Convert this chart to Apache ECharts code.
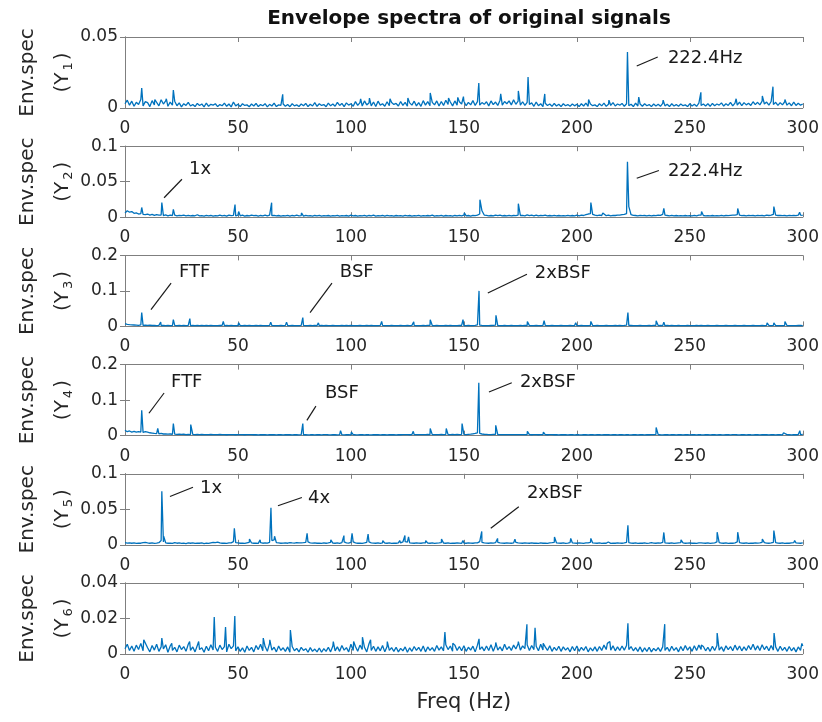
<!DOCTYPE html>
<html>
<head>
<meta charset="utf-8">
<title>Envelope spectra of original signals</title>
<script src="https://cdn.jsdelivr.net/npm/echarts@6/dist/echarts.min.js"></script>
<style>
  html, body { margin: 0; padding: 0; background: #fff; }
  #chart { width: 822px; height: 722px; }
</style>
</head>
<body>
<div id="chart"></div>
<script>
// Frequency axis ticks (Hz)
const freqTicks = [0, 50, 100, 150, 200, 250, 300];

// Noise floor of each envelope spectrum, one value per Hz from 0 to 300 Hz,
// in units of 1e-4.
const FLOOR_UNIT = 1e-4;

const floorY1 = [
  30,55,20,48,12,40,25,60,15,45,
  38,10,52,22,46,15,58,28,50,12,
  42,20,48,16,36,8,30,18,40,14,
  25,10,32,18,28,8,35,12,26,20,
  30,10,24,16,34,12,28,8,42,15,
  26,10,30,18,22,9,28,14,32,10,
  24,16,30,8,26,14,35,10,22,18,
  28,12,24,9,30,15,22,11,28,16,
  32,10,26,14,38,12,30,18,24,9,
  34,15,28,12,40,18,32,10,36,20,
  30,12,45,18,38,14,50,22,35,15,
  42,10,48,20,30,12,44,16,38,25,
  32,14,46,18,40,12,36,20,48,15,
  38,12,52,20,45,16,40,22,50,14,
  46,18,55,25,42,15,50,20,44,28,
  48,16,40,22,52,18,45,20,38,26,
  44,15,50,24,42,18,55,20,46,30,
  50,22,58,26,48,20,44,18,40,24,
  36,12,42,16,30,10,34,18,28,12,
  32,14,26,10,30,16,24,12,28,15,
  26,10,30,14,35,12,28,16,22,10,
  30,15,34,12,26,18,38,14,28,20,
  32,12,30,16,26,10,34,14,28,12,
  30,16,24,10,28,14,26,12,32,15,
  26,10,30,14,24,12,28,16,22,10,
  30,14,26,12,34,18,28,14,30,12,
  32,16,28,20,36,14,30,18,40,15,
  34,20,42,16,38,22,34,18,44,24,
  40,22,48,28,42,20,46,24,40,18,
  38,22,44,20,36,16,42,18,34,20,
  28
];

const floorY2 = [
  60,90,70,80,55,60,45,50,40,35,
  45,30,40,25,35,28,30,22,32,20,
  30,24,28,18,26,22,30,20,25,18,
  24,20,35,18,22,16,26,20,24,15,
  22,18,28,20,25,16,30,22,26,18,
  30,20,28,16,24,18,30,22,26,15,
  24,20,28,18,30,22,26,18,24,16,
  22,18,26,15,24,20,28,18,22,16,
  25,18,22,15,24,20,26,16,22,18,
  24,16,22,18,26,15,22,20,24,16,
  30,18,24,16,22,18,26,15,24,20,
  28,16,22,18,24,15,26,18,22,16,
  24,18,22,15,26,20,24,16,22,18,
  25,16,22,20,24,18,30,16,22,18,
  26,16,24,20,22,15,24,18,26,20,
  30,18,24,16,26,22,30,45,90,30,
  26,20,24,18,30,22,28,18,24,20,
  26,18,24,22,30,24,26,20,32,22,
  28,20,30,18,26,22,28,20,24,18,
  26,20,24,18,22,20,26,18,24,20,
  28,20,30,24,35,45,50,40,28,22,
  30,24,35,22,28,20,26,24,30,28,
  35,40,50,150,35,26,24,20,26,22,
  24,20,26,18,24,22,30,26,40,28,
  24,20,26,18,24,20,22,18,24,20,
  22,18,26,20,30,28,24,18,22,20,
  24,18,22,20,26,18,24,22,26,28,
  30,35,28,22,24,20,26,22,24,20,
  26,22,24,20,28,24,30,40,30,24,
  26,22,24,20,26,22,24,22,28,30,
  26
];

const floorY3 = [
  80,60,50,45,40,35,30,40,30,35,
  28,32,25,30,22,28,26,30,24,28,
  22,26,30,24,28,20,26,22,30,24,
  26,20,28,22,30,24,26,20,28,22,
  24,20,26,30,22,26,20,28,24,22,
  26,20,24,28,22,26,20,24,28,22,
  26,20,24,22,28,26,20,24,22,26,
  20,28,24,22,26,20,24,22,28,30,
  24,20,26,22,28,24,20,26,22,28,
  24,20,26,22,24,20,26,22,28,24,
  26,20,24,22,26,20,24,28,22,26,
  20,24,22,28,26,20,24,22,26,20,
  24,22,28,24,20,26,22,28,26,20,
  24,22,26,20,28,30,24,22,26,20,
  24,22,28,20,26,22,24,20,28,26,
  24,22,26,20,24,28,40,35,26,22,
  24,20,26,28,35,24,22,20,26,22,
  24,26,20,24,22,26,20,28,26,22,
  24,20,26,22,24,28,30,22,20,26,
  22,24,20,26,22,24,20,28,22,26,
  24,20,26,22,24,20,28,24,22,26,
  20,24,22,26,20,24,22,26,20,28,
  24,28,35,30,26,22,24,20,26,22,
  24,20,26,22,28,30,24,26,22,20,
  26,22,28,24,20,26,22,24,20,26,
  22,24,20,28,24,26,22,20,26,22,
  24,20,26,22,24,20,26,24,22,20,
  26,22,24,20,26,22,24,20,28,22,
  24,20,26,22,28,26,24,28,22,20,
  24,22,30,26,22,20,24,22,26,28,
  24
];

const floorY4 = [
  150,110,130,100,120,95,115,100,90,110,
  95,80,70,60,55,50,60,45,50,40,
  45,38,42,35,40,32,38,30,36,28,
  34,30,36,28,32,26,30,28,34,26,
  30,28,32,26,30,24,28,30,26,24,
  28,26,30,24,28,26,30,24,28,22,
  26,24,28,22,26,24,28,22,26,24,
  22,26,24,28,22,26,24,22,28,24,
  26,22,24,28,22,26,24,22,26,28,
  24,22,26,24,22,28,26,22,24,26,
  22,28,24,22,26,24,22,28,24,22,
  26,24,28,22,26,24,22,26,24,28,
  22,26,24,28,30,26,24,28,26,30,
  28,26,30,28,34,30,28,26,30,28,
  32,30,34,28,30,32,28,34,30,36,
  34,30,36,40,50,60,80,60,45,38,
  34,30,28,32,36,30,28,26,30,28,
  26,30,28,26,28,30,26,28,30,26,
  24,28,26,24,28,30,26,24,28,26,
  24,26,22,28,24,26,22,24,26,22,
  28,24,22,26,24,22,26,24,22,26,
  24,22,26,24,28,22,26,24,22,26,
  24,22,28,24,22,26,24,22,26,24,
  22,26,24,28,30,34,28,24,22,26,
  24,22,26,24,22,26,24,22,26,24,
  22,26,24,22,28,24,22,26,24,22,
  26,24,22,28,24,22,26,24,22,26,
  30,24,22,26,24,22,28,24,22,26,
  24,22,26,24,28,22,26,24,22,26,
  24,22,28,26,24,22,26,24,28,30,
  34
];

const floorY5 = [
  30,25,28,22,26,20,24,22,30,35,
  28,22,26,20,24,30,60,40,28,22,
  24,20,30,22,26,20,24,18,26,22,
  28,20,24,22,26,18,24,20,28,35,
  30,38,26,22,24,20,26,28,45,30,
  26,22,24,20,28,35,26,22,24,20,
  30,22,26,24,35,60,70,30,26,22,
  24,28,22,30,26,24,32,28,26,30,
  35,40,28,24,26,22,24,20,26,22,
  28,35,24,22,26,20,30,40,26,24,
  35,40,26,22,24,20,26,35,40,28,
  24,22,26,20,28,24,22,26,20,24,
  22,28,26,40,45,38,28,24,22,26,
  24,22,26,28,24,22,26,20,24,26,
  30,24,22,26,20,24,22,26,24,20,
  24,22,26,24,22,26,28,45,35,26,
  24,22,26,24,30,35,28,24,22,26,
  24,22,26,35,28,24,22,26,24,22,
  26,22,24,20,26,22,24,20,26,30,
  35,26,24,22,26,20,24,30,28,24,
  22,26,24,20,26,28,35,26,24,22,
  26,20,24,22,26,20,24,22,26,24,
  22,26,35,30,24,22,26,20,24,22,
  26,20,24,30,24,22,26,24,35,28,
  24,22,26,20,24,28,30,26,22,24,
  26,22,24,20,26,28,24,22,26,20,
  24,28,40,30,24,22,26,20,24,22,
  28,40,30,24,22,26,20,24,22,26,
  24,28,35,30,24,22,26,35,30,24,
  22,26,20,24,22,26,30,28,24,22,
  26
];

const floorY6 = [
  30,55,20,45,15,50,25,60,18,70,
  35,12,48,22,55,15,40,28,52,10,
  45,20,38,12,50,25,42,15,55,20,
  40,12,48,25,35,10,44,18,52,22,
  38,15,50,25,42,12,55,30,46,18,
  40,15,35,10,45,20,38,12,48,25,
  55,18,42,15,60,22,38,12,45,20,
  35,15,40,10,42,18,32,12,38,20,
  30,10,36,15,28,12,34,10,30,15,
  38,12,45,18,40,15,48,22,36,12,
  55,20,42,15,50,25,38,12,58,20,
  44,15,40,18,48,12,42,20,36,15,
  38,12,32,18,40,10,35,15,42,20,
  38,15,45,12,40,20,36,15,48,22,
  40,18,52,25,45,15,50,20,42,18,
  46,15,38,22,44,12,50,25,40,18,
  45,20,52,15,48,22,40,18,55,25,
  42,20,50,28,58,22,46,30,52,20,
  48,25,44,18,55,22,40,20,46,15,
  38,20,44,15,40,22,35,12,42,18,
  45,15,38,20,42,12,35,18,40,15,
  42,20,50,25,55,22,46,18,40,20,
  45,22,48,25,42,18,36,15,40,12,
  35,15,38,12,32,18,36,15,40,20,
  38,15,44,20,36,12,42,18,48,22,
  40,15,46,20,50,25,42,18,38,15,
  44,20,48,22,40,15,46,25,42,18,
  50,22,45,18,40,20,48,25,55,22,
  46,20,52,25,44,18,48,22,40,15,
  44,20,38,15,42,18,36,12,40,20,
  45
];

// Spectral lines standing above the floor: [frequency (Hz), amplitude]
const peaksY1 = [
  [7.4,0.0140],[13.2,0.0060],[18.3,0.0065],[21.4,0.0127],[69.8,0.0096],
  [104.3,0.0065],[108.2,0.0070],[117.3,0.0065],[125.2,0.0070],[135.1,0.0106],
  [143.2,0.0070],[147.3,0.0075],[149.8,0.0080],[156.6,0.0176],[166.3,0.0099],
  [172.6,0.0068],[174.1,0.0120],[178.4,0.0218],[185.8,0.0099],[205.2,0.0060],
  [214.2,0.0055],[222.4,0.0394],[227.4,0.0077],[238.2,0.0055],[254.9,0.0110],
  [270.5,0.0065],[282.1,0.0085],[286.8,0.0150],[292.1,0.0060]
];
const peaksY2 = [
  [7.4,0.0137],[16.3,0.0205],[21.4,0.0110],[32.1,0.0060],[48.7,0.0178],
  [50.3,0.0080],[64.9,0.0205],[78.1,0.0060],[100.2,0.0050],[110.2,0.0050],
  [136.1,0.0050],[150.2,0.0060],[157.1,0.0247],[164.1,0.0050],[174.1,0.0190],
  [178.1,0.0060],[206.2,0.0205],[211.5,0.0060],[222.4,0.0780],[238.5,0.0123],
  [255.2,0.0080],[271.2,0.0123],[287.2,0.0150],[298.6,0.0070]
];
const peaksY3 = [
  [7.4,0.039],[15.8,0.012],[21.4,0.019],[28.7,0.022],[36.2,0.008],
  [43.5,0.014],[50.3,0.010],[57.2,0.008],[64.5,0.012],[71.5,0.012],
  [78.7,0.025],[85.6,0.010],[92.8,0.006],[100.3,0.008],[107.2,0.006],
  [113.6,0.014],[120.8,0.008],[127.8,0.013],[135.1,0.019],[142.3,0.008],
  [149.6,0.019],[156.7,0.100],[164.2,0.031],[171.2,0.008],[178.1,0.014],
  [185.5,0.016],[199.5,0.010],[206.2,0.014],[213.5,0.006],[222.6,0.039],
  [235.1,0.016],[238.5,0.012],[242.1,0.008],[255.2,0.008],[263.2,0.005],
  [270.3,0.006],[277.8,0.005],[284.2,0.010],[287.2,0.010],[292.1,0.014],
  [298.7,0.006]
];
const peaksY4 = [
  [7.4,0.071],[14.5,0.020],[21.4,0.034],[29.1,0.031],[39.2,0.006],
  [50.2,0.006],[57.6,0.006],[78.7,0.034],[95.4,0.014],[100.2,0.010],
  [115.1,0.006],[127.6,0.012],[135.1,0.020],[142.2,0.020],[149.2,0.034],
  [156.6,0.149],[164.1,0.029],[171.1,0.008],[178.1,0.012],[185.2,0.010],
  [199.5,0.006],[214.1,0.006],[235.1,0.023],[270.2,0.006],[277.2,0.004],
  [284.2,0.004],[291.5,0.008],[298.7,0.014]
];
const peaksY5 = [
  [9.2,0.006],[16.3,0.0754],[17.1,0.012],[22.4,0.005],[30.2,0.004],
  [39.1,0.006],[41.2,0.005],[48.4,0.0232],[55.1,0.008],[59.8,0.007],
  [64.6,0.052],[66.2,0.012],[73.1,0.005],[76.2,0.006],[80.6,0.016],
  [91.1,0.007],[96.9,0.013],[100.5,0.016],[107.6,0.015],[114.1,0.006],
  [121.6,0.006],[123.9,0.013],[125.5,0.011],[133.1,0.006],[140.1,0.008],
  [149.6,0.006],[157.9,0.0188],[164.9,0.009],[172.6,0.008],[180.7,0.005],
  [190.1,0.011],[197.3,0.009],[206.2,0.009],[213.9,0.004],[222.6,0.0275],
  [233.1,0.005],[238.5,0.0174],[246.1,0.007],[255.1,0.005],[262.1,0.0178],
  [271.2,0.0178],[282.1,0.008],[287.2,0.020],[296.4,0.006]
];
const peaksY6 = [
  [8.3,0.008],[16.3,0.009],[20.7,0.006],[28.6,0.007],[32.6,0.007],
  [39.5,0.0208],[44.5,0.0152],[48.6,0.0214],[61.2,0.009],[64.1,0.008],
  [73.2,0.0135],[92.2,0.007],[101.2,0.007],[105.1,0.0095],[108.7,0.008],
  [116.1,0.007],[141.6,0.0124],[145.1,0.006],[156.7,0.0085],[164.1,0.0065],
  [172.6,0.006],[174.1,0.007],[177.9,0.0168],[181.5,0.0148],[185.1,0.006],
  [213.5,0.006],[214.6,0.007],[222.6,0.0173],[238.9,0.0168],[255.1,0.005],
  [262.1,0.0118],[270.1,0.006],[278.6,0.006],[287.3,0.0118],[299.6,0.006]
];

// Amplitude axis range and tick step of each panel
const yMax = [0.05, 0.1, 0.2, 0.2, 0.1, 0.04];
const yStep = [0.05, 0.05, 0.1, 0.1, 0.05, 0.02];

const floors = [floorY1, floorY2, floorY3, floorY4, floorY5, floorY6];
const peaks = [peaksY1, peaksY2, peaksY3, peaksY4, peaksY5, peaksY6];

// Annotated spectral lines: leader from [f, a] to [f, a], then text at [f, a]
const notes = [
  [ { text: '222.4Hz', from: [226.5, 0.0296], to: [235.8, 0.0359], at: [240.3, 0.0352] } ],
  [ { text: '1x', from: [17.3, 0.0274], to: [25.2, 0.0534], at: [28.3, 0.067] },
    { text: '222.4Hz', from: [226.5, 0.0548], to: [236.3, 0.0658], at: [240.3, 0.0644] } ],
  [ { text: 'FTF', from: [11.5, 0.047], to: [20.4, 0.122], at: [23.9, 0.153] },
    { text: 'BSF', from: [81.9, 0.039], to: [91.6, 0.122], at: [95.1, 0.153] },
    { text: '2xBSF', from: [160.6, 0.094], to: [177.9, 0.147], at: [181.4, 0.15] } ],
  [ { text: 'FTF', from: [10.6, 0.063], to: [17.3, 0.12], at: [20.4, 0.151] },
    { text: 'BSF', from: [80.5, 0.043], to: [84.5, 0.083], at: [88.5, 0.12] },
    { text: '2xBSF', from: [161.1, 0.123], to: [171.2, 0.149], at: [174.8, 0.149] } ],
  [ { text: '1x', from: [19.9, 0.068], to: [30.1, 0.081], at: [33.2, 0.0797] },
    { text: '4x', from: [67.7, 0.055], to: [78.3, 0.0667], at: [81.0, 0.0652] },
    { text: '2xBSF', from: [161.9, 0.0232], to: [174.3, 0.0536], at: [177.9, 0.0725] } ],
  []
];

function spectrum(floor, lines) {
  const pts = floor.map((v, hz) => [hz, v * FLOOR_UNIT]);
  lines.forEach(p => pts.push([p[0], p[1]]));
  pts.sort((a, b) => a[0] - b[0]);
  return pts;
}

const FONT = '"DejaVu Sans", "Liberation Sans", Arial, sans-serif';
const FRAME = '#7f7f7f';
const TEXT = '#262626';
const GRID_LEFT = 125, GRID_WIDTH = 678, GRID_TOP = 37, GRID_STEP = 109.2, GRID_H = 71;

const grids = [], xAxes = [], yAxes = [], series = [];

for (let i = 0; i < 6; i++) {
  grids.push({ left: GRID_LEFT, width: GRID_WIDTH, top: GRID_TOP + i * GRID_STEP, height: GRID_H });

  const xCommon = {
    type: 'value', gridIndex: i, min: freqTicks[0], max: freqTicks[freqTicks.length - 1],
    interval: freqTicks[1] - freqTicks[0],
    axisLine: { show: true, onZero: false, lineStyle: { color: FRAME, width: 1 } },
    axisTick: { show: true, inside: true, length: 5, lineStyle: { color: FRAME } },
    splitLine: { show: false }
  };
  const xBottom = Object.assign({}, xCommon, {
    position: 'bottom',
    axisLabel: { show: true, fontSize: 17, color: TEXT, fontFamily: FONT, margin: 12 }
  });
  if (i === 5) {
    Object.assign(xBottom, {
      name: 'Freq (Hz)', nameLocation: 'middle', nameGap: 38, nameMoveOverlap: false,
      nameTextStyle: { fontSize: 21, color: TEXT, fontFamily: FONT }
    });
  }
  xAxes.push(xBottom);
  xAxes.push(Object.assign({}, xCommon, { position: 'top', axisLabel: { show: false } }));

  const yCommon = {
    type: 'value', gridIndex: i, min: 0, max: yMax[i], interval: yStep[i],
    axisLine: { show: true, lineStyle: { color: FRAME, width: 1 } },
    axisTick: { show: true, inside: true, length: 5, lineStyle: { color: FRAME } },
    splitLine: { show: false }
  };
  yAxes.push(Object.assign({}, yCommon, {
    position: 'left',
    axisLabel: { show: true, fontSize: 17, color: TEXT, fontFamily: FONT, margin: 7 },
    name: '{m|Env.spec}\n{m|(Y}{s|' + (i + 1) + '}{m|)}',
    nameLocation: 'middle', nameRotate: 90, nameGap: 45, nameMoveOverlap: false,
    nameTextStyle: {
      color: TEXT, fontFamily: FONT,
      rich: {
        m: { fontSize: 20, lineHeight: 35, color: TEXT, fontFamily: FONT },
        s: { fontSize: 13, lineHeight: 35, color: TEXT, fontFamily: FONT, padding: [12, 2, 0, 2] }
      }
    }
  }));
  yAxes.push(Object.assign({}, yCommon, { position: 'right', axisLabel: { show: false } }));

  const marks = notes[i];
  series.push({
    type: 'line',
    xAxisIndex: 2 * i, yAxisIndex: 2 * i,
    data: spectrum(floors[i], peaks[i]),
    showSymbol: false, symbol: 'none',
    lineStyle: { color: '#0072BD', width: 1.3 },
    itemStyle: { color: '#0072BD' },
    animation: false,
    silent: true,
    markLine: {
      silent: true, animation: false, symbol: ['none', 'none'],
      lineStyle: { color: '#1a1a1a', width: 1.2, type: 'solid' },
      label: { show: false },
      emphasis: { disabled: true },
      data: marks.map(m => [{ coord: m.from }, { coord: m.to }])
    },
    markPoint: {
      silent: true, animation: false, symbol: 'circle', symbolSize: 0,
      label: {
        show: true, position: 'right', distance: 0, formatter: '{b}',
        fontSize: 18, color: '#1a1a1a', fontFamily: FONT
      },
      data: marks.map(m => ({ name: m.text, coord: m.at }))
    }
  });
}

const chart = echarts.init(document.getElementById('chart'), null, { renderer: 'canvas' });
chart.setOption({
  backgroundColor: '#ffffff',
  animation: false,
  title: {
    text: 'Envelope spectra of original signals',
    left: 464, top: 4, textAlign: 'center',
    textStyle: { fontSize: 20, fontWeight: 'bold', color: '#111', fontFamily: FONT }
  },
  grid: grids,
  xAxis: xAxes,
  yAxis: yAxes,
  series: series
});
</script>
</body>
</html>
